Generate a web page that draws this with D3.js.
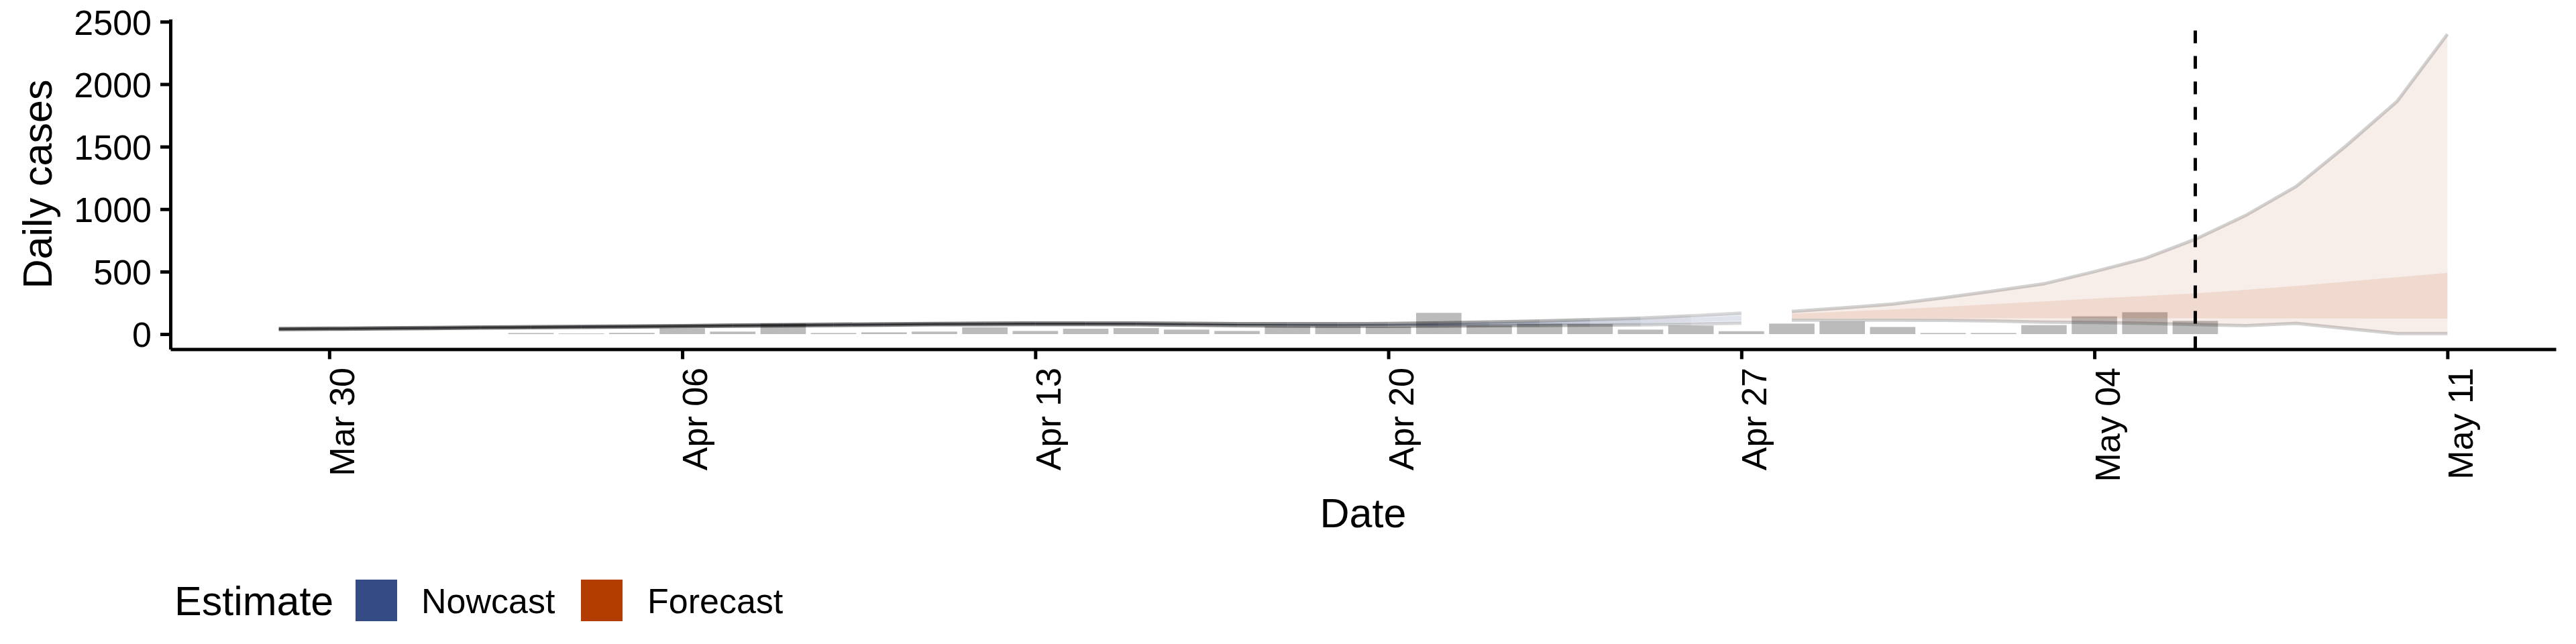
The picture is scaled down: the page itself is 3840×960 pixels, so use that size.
<!DOCTYPE html>
<html><head><meta charset="utf-8">
<script src="https://cdn.jsdelivr.net/npm/d3@7"></script>
<style>
body{margin:0;background:#fff}
svg{display:block}
text{font-family:"Liberation Sans",Arial,Helvetica,sans-serif;fill:#000}
</style>
</head><body>
<svg id="chart" width="3840" height="960"></svg>
<script>
// ---------------- DATA ----------------
const reportDates = ["2020-04-03","2020-04-04","2020-04-05","2020-04-06","2020-04-07","2020-04-08","2020-04-09","2020-04-10","2020-04-11","2020-04-12","2020-04-13","2020-04-14","2020-04-15","2020-04-16","2020-04-17","2020-04-18","2020-04-19","2020-04-20","2020-04-21","2020-04-22","2020-04-23","2020-04-24","2020-04-25","2020-04-26","2020-04-27","2020-04-28","2020-04-29","2020-04-30","2020-05-01","2020-05-02","2020-05-03","2020-05-04","2020-05-05","2020-05-06"];
const reportCases = [9,5,10,47,20,85,9,14,20,54,25,43,48,36,25,63,63,59,170,70,84,81,36,68,23,84,101,57,9,9,72,142,175,106];

const nowcastDates = ["2020-03-29","2020-03-30","2020-03-31","2020-04-01","2020-04-02","2020-04-03","2020-04-04","2020-04-05","2020-04-06","2020-04-07","2020-04-08","2020-04-09","2020-04-10","2020-04-11","2020-04-12","2020-04-13","2020-04-14","2020-04-15","2020-04-16","2020-04-17","2020-04-18","2020-04-19","2020-04-20","2020-04-21","2020-04-22","2020-04-23","2020-04-24","2020-04-25","2020-04-26","2020-04-27"];
const nowLower90 = [36,39,42,45,48,51,54,57,60,63,66,69,72,75,76,77,77,75,72,68,65,63,63,64,67,69,71,74,80,88];
const nowUpper90 = [44,47,50,53,56,59,62,65,68,73,76,79,82,85,88,89,89,89,86,84,83,83,85,90,97,105,115,128,146,168];
const nowLower50 = [38,41,44,47,50,53,56,59,62,66,69,72,75,78,79,80,80,79,76,72,70,68,69,71,75,78,82,88,97,108];
const nowUpper50 = [42,45,48,51,54,57,60,63,66,70,73,76,79,82,85,86,86,86,83,80,78,78,80,84,90,96,104,115,130,148];
const nowConfidence = [1,1,1,1,1,1,1,1,1,1,1,1,1,1,1,1,1,0.97,0.95,0.92,0.88,0.84,0.8,0.75,0.7,0.65,0.55,0.45,0.35,0.3];

const forecastDates = ["2020-04-28","2020-04-29","2020-04-30","2020-05-01","2020-05-02","2020-05-03","2020-05-04","2020-05-05","2020-05-06","2020-05-07","2020-05-08","2020-05-09","2020-05-10","2020-05-11"];
const fcLower90 = [112,112,111,110,105,96,93,86,77,67,86,44,4,4];
const fcUpper90 = [182,210,240,290,345,403,500,605,759,950,1181,1510,1862,2400];
const fcLower50 = [128,128,128,127,127,127,126,126,126,125,125,125,124,124];
const fcUpper50 = [163,180,198,218,240,262,285,305,326,355,385,420,455,490];

const estimateDate = "2020-05-06";
const xTickDates = ["2020-03-30","2020-04-06","2020-04-13","2020-04-20","2020-04-27","2020-05-04","2020-05-11"];
const yTicks = [0,500,1000,1500,2000,2500];
const legendTitle = "Estimate";
const legendLabels = ["Nowcast","Forecast"];

// ---------------- STYLE ----------------
const NOW_COLOR = "#344b85", FC_COLOR = "#b33c00", BAR_COLOR = "#bbbbbb";
const OUTER_A = 0.25, INNER_A = 0.30, EDGE_A = 0.5, FC_WEIGHT = 0.35, EDGE_W = 5;
const L = 254, R = 3810, T = 28.6, B = 520.4;

const parse = d3.utcParse("%Y-%m-%d");
const svg = d3.select("#chart");

const allDates = [...nowcastDates, ...forecastDates, ...reportDates].map(parse);
const xMin = d3.min(allDates), xMax = d3.max(allDates);
const xSpan = xMax - xMin;
const x = d3.scaleUtc().domain([new Date(+xMin - 0.05*xSpan), new Date(+xMax + 0.05*xSpan)]).range([L, R]);
const yMax = d3.max([...fcUpper90, ...nowUpper90, ...reportCases]);
const yMin = 0;
const ySpan = yMax - yMin;
const y = d3.scaleLinear().domain([yMin - 0.05*ySpan, yMax + 0.05*ySpan]).range([B, T]);
const dayPx = x(d3.utcDay.offset(xMin, 1)) - x(xMin);

// bars
svg.append("g").selectAll("rect").data(reportDates.map((d,i)=>({d:parse(d),v:reportCases[i]})))
  .join("rect")
  .attr("x", d => x(d.d) - dayPx*0.45)
  .attr("width", dayPx*0.9)
  .attr("y", d => y(d.v))
  .attr("height", d => y(0) - y(d.v))
  .attr("fill", BAR_COLOR);

// nowcast (per-day segments, alpha mapped to confidence)
const nowData = nowcastDates.map((d,i)=>({d:parse(d), lo90:nowLower90[i], up90:nowUpper90[i], lo50:nowLower50[i], up50:nowUpper50[i], c:nowConfidence[i]}));
const gNow = svg.append("g");
const area90 = d3.area().x(d=>x(d.d)).y0(d=>y(d.lo90)).y1(d=>y(d.up90));
const area50 = d3.area().x(d=>x(d.d)).y0(d=>y(d.lo50)).y1(d=>y(d.up50));
const lineUp = d3.line().x(d=>x(d.d)).y(d=>y(d.up90));
const lineLo = d3.line().x(d=>x(d.d)).y(d=>y(d.lo90));
for (let i = 0; i < nowData.length - 1; i++) {
  const seg = [nowData[i], nowData[i+1]];
  const c = nowData[i+1].c;
  gNow.append("path").attr("d", area90(seg)).attr("fill", NOW_COLOR).attr("fill-opacity", OUTER_A*c);
  gNow.append("path").attr("d", area50(seg)).attr("fill", NOW_COLOR).attr("fill-opacity", INNER_A*c);
  gNow.append("path").attr("d", lineUp(seg)).attr("fill","none").attr("stroke","#000").attr("stroke-opacity", EDGE_A*c).attr("stroke-width", EDGE_W);
  gNow.append("path").attr("d", lineLo(seg)).attr("fill","none").attr("stroke","#000").attr("stroke-opacity", EDGE_A*c).attr("stroke-width", EDGE_W);
}

// forecast
const fcData = forecastDates.map((d,i)=>({d:parse(d), lo90:fcLower90[i], up90:fcUpper90[i], lo50:fcLower50[i], up50:fcUpper50[i]}));
const gFc = svg.append("g");
gFc.append("path").attr("d", area90(fcData)).attr("fill", FC_COLOR).attr("fill-opacity", OUTER_A*FC_WEIGHT);
gFc.append("path").attr("d", area50(fcData)).attr("fill", FC_COLOR).attr("fill-opacity", INNER_A*FC_WEIGHT);
gFc.append("path").attr("d", lineUp(fcData)).attr("fill","none").attr("stroke","#000").attr("stroke-opacity", EDGE_A*FC_WEIGHT).attr("stroke-width", EDGE_W);
gFc.append("path").attr("d", lineLo(fcData)).attr("fill","none").attr("stroke","#000").attr("stroke-opacity", EDGE_A*FC_WEIGHT).attr("stroke-width", EDGE_W);

// dashed estimate date line (drawn bottom to top)
svg.append("line")
  .attr("x1", x(parse(estimateDate))).attr("x2", x(parse(estimateDate)))
  .attr("y1", B).attr("y2", T)
  .attr("stroke", "#000").attr("stroke-width", 5).attr("stroke-dasharray", "19,19");

// axes
const yAxis = svg.append("g").attr("transform", `translate(${L},0)`)
  .call(d3.axisLeft(y).tickValues(yTicks).tickFormat(d3.format("d")).tickSize(15).tickSizeOuter(0).tickPadding(13));
yAxis.attr("font-family", null).attr("font-size", null);
yAxis.select(".domain").attr("stroke-width", 5).attr("stroke", "#000");
yAxis.selectAll(".tick line").attr("stroke-width", 5).attr("stroke", "#000");
yAxis.selectAll(".tick text").attr("font-size", 52).attr("dy", "0.36em");

const xAxis = svg.append("g").attr("transform", `translate(0,${B})`)
  .call(d3.axisBottom(x).tickValues(xTickDates.map(parse)).tickFormat(d3.utcFormat("%b %d")).tickSize(15).tickSizeOuter(0));
xAxis.attr("font-family", null).attr("font-size", null);
xAxis.select(".domain").attr("stroke-width", 5).attr("stroke", "#000");
xAxis.selectAll(".tick line").attr("stroke-width", 5).attr("stroke", "#000");
xAxis.selectAll(".tick text")
  .attr("font-size", 52).attr("x", 0).attr("y", 0).attr("dy", "0.71em")
  .attr("text-anchor", "end")
  .attr("transform", `translate(0,${548 - B}) rotate(-90)`);

// axis titles
svg.append("text").attr("x", (L+R)/2).attr("y", 786).attr("text-anchor","middle").attr("font-size", 61).text("Date");
svg.append("text").attr("transform", `translate(76.5,${(T+B)/2}) rotate(-90)`).attr("text-anchor","middle").attr("font-size", 61).text("Daily cases");

// legend
const lg = svg.append("g");
lg.append("text").attr("x", 260).attr("y", 917).attr("font-size", 61).text(legendTitle);
const keyX = [530, 866], labX = [628, 965], keyColors = [NOW_COLOR, FC_COLOR];
legendLabels.forEach((lab, i) => {
  lg.append("rect").attr("x", keyX[i]).attr("y", 864).attr("width", 62).attr("height", 62).attr("fill", keyColors[i]);
  lg.append("text").attr("x", labX[i]).attr("y", 914).attr("font-size", 52).text(lab);
});
</script>
</body></html>
